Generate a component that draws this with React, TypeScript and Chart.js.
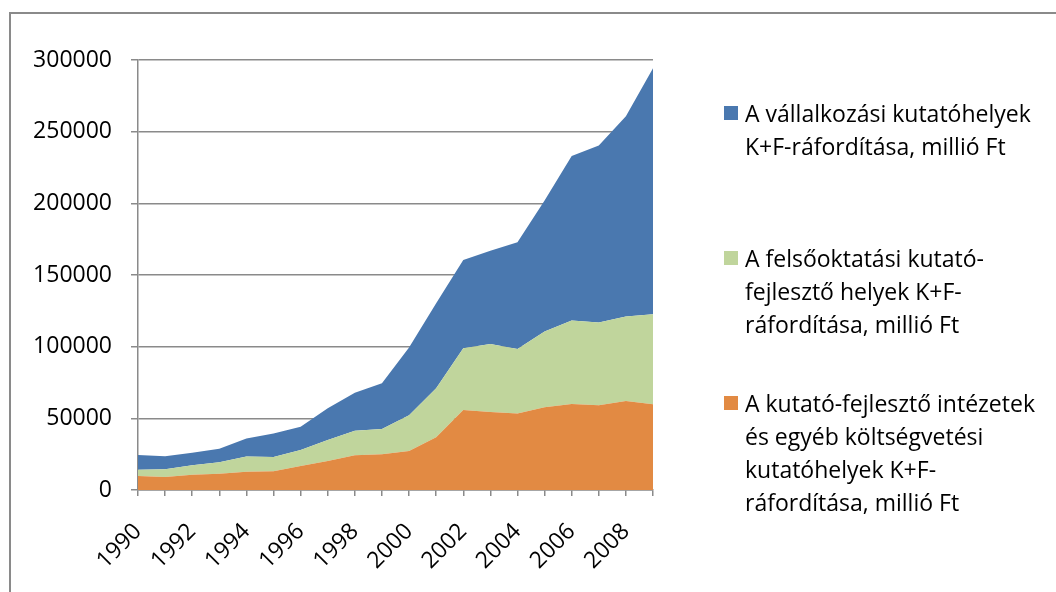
import React, { useEffect, useRef } from "react";
import { Chart, registerables } from "chart.js";

Chart.register(...registerables);

const years = [
  "1990", "1991", "1992", "1993", "1994", "1995", "1996", "1997", "1998", "1999",
  "2000", "2001", "2002", "2003", "2004", "2005", "2006", "2007", "2008", "2009",
];

// A kutató-fejlesztő intézetek és egyéb költségvetési kutatóhelyek
const institutes = [
  9800, 9100, 10700, 11400, 12800, 13000, 16700, 20200, 24200, 24900,
  27200, 36800, 55800, 54400, 53300, 57700, 60000, 59100, 62100, 59800,
];

// A felsőoktatási kutató-fejlesztő helyek
const higherEd = [
  4400, 5300, 6500, 7900, 10500, 10000, 11200, 14700, 17200, 17700,
  25000, 34200, 43100, 47500, 45100, 52800, 58200, 57700, 58900, 62800,
];

// A vállalkozási kutatóhelyek
const business = [
  10200, 9100, 8800, 9500, 12700, 16500, 16300, 22100, 26500, 31800,
  47300, 59300, 61600, 65100, 74400, 91500, 114800, 123600, 139700, 171600,
];

const yTicks = [0, 50000, 100000, 150000, 200000, 250000, 300000];

const legendItems = [
  { color: "#4a78af", lines: ["A vállalkozási kutatóhelyek", "K+F-ráfordítása, millió Ft"], center: 113 },
  { color: "#c0d59c", lines: ["A felsőoktatási kutató-", "fejlesztő helyek K+F-", "ráfordítása, millió Ft"], center: 258 },
  { color: "#e28a43", lines: ["A kutató-fejlesztő intézetek", "és egyéb költségvetési", "kutatóhelyek K+F-", "ráfordítása, millió Ft"], center: 403 },
];

const FONT = "'Open Sans', sans-serif";
const GRID = "#8a8a8a";

export default function App() {
  const ref = useRef<HTMLCanvasElement | null>(null);

  useEffect(() => {
    if (!ref.current) return;
    const chart = new Chart(ref.current, {
      type: "line",
      data: {
        labels: years,
        datasets: [
          {
            label: "A kutató-fejlesztő intézetek és egyéb költségvetési kutatóhelyek K+F-ráfordítása, millió Ft",
            data: institutes,
            backgroundColor: "#e28a43",
            borderWidth: 0,
            pointRadius: 0,
            fill: "origin",
          },
          {
            label: "A felsőoktatási kutató-fejlesztő helyek K+F-ráfordítása, millió Ft",
            data: higherEd,
            backgroundColor: "#c0d59c",
            borderWidth: 0,
            pointRadius: 0,
            fill: "-1",
          },
          {
            label: "A vállalkozási kutatóhelyek K+F-ráfordítása, millió Ft",
            data: business,
            backgroundColor: "#4a78af",
            borderWidth: 0,
            pointRadius: 0,
            fill: "-1",
          },
        ],
      },
      options: {
        responsive: false,
        animation: false,
        layout: { padding: { left: 0, right: 403, top: 60, bottom: 0 } },
        plugins: {
          legend: { display: false },
          tooltip: { enabled: false },
        },
        elements: { line: { tension: 0 } },
        scales: {
          x: {
            type: "category",
            offset: false,
            afterFit: (s: any) => {
              s.height = 102;
            },
            grid: {
              drawOnChartArea: false,
              drawTicks: true,
              tickLength: 6,
              tickColor: GRID,
              lineWidth: 1.5,
            },
            border: { display: true, color: GRID, width: 1.5 },
            ticks: {
              autoSkip: false,
              maxRotation: 45,
              minRotation: 45,
              padding: 22,
              color: "#000",
              font: { family: FONT, size: 23 },
              callback: (_v: any, i: number) => (i % 2 === 0 ? years[i] : ""),
            },
          },
          y: {
            stacked: true,
            min: yTicks[0],
            max: yTicks[yTicks.length - 1],
            afterFit: (s: any) => {
              s.width = 138;
            },
            afterBuildTicks: (s: any) => {
              s.ticks = yTicks.map((v) => ({ value: v }));
            },
            grid: {
              color: GRID,
              lineWidth: 1.5,
              tickLength: 7,
              tickColor: GRID,
            },
            border: { display: true, color: GRID, width: 1.5 },
            ticks: {
              padding: 19,
              color: "#000",
              font: { family: FONT, size: 23 },
              callback: (v: any) => String(v),
            },
          },
        },
      },
    });
    return () => chart.destroy();
  }, []);

  return (
    <div style={{ position: "fixed", left: 0, top: 0, width: 1056, height: 592, overflow: "hidden", background: "#fff" }}>
      <div
        style={{
          position: "absolute",
          left: 9,
          top: 12,
          width: 1100,
          height: 700,
          borderLeft: "2px solid #8a8a8a",
          borderTop: "2px solid #8a8a8a",
        }}
      />
      <canvas ref={ref} width={1056} height={592} style={{ position: "absolute", left: 0, top: 0 }} />
      {legendItems.map((it, k) => (
        <div
          key={k}
          style={{
            position: "absolute",
            left: 724,
            top: it.center - 16.5,
            fontFamily: FONT,
            fontSize: 23,
            lineHeight: "33.3px",
            color: "#000",
            whiteSpace: "nowrap",
          }}
        >
          <span
            style={{
              position: "absolute",
              left: 0,
              top: 9.5,
              width: 14,
              height: 14,
              background: it.color,
            }}
          />
          <div style={{ marginLeft: 21 }}>
            {it.lines.map((l, j) => (
              <div key={j}>{l}</div>
            ))}
          </div>
        </div>
      ))}
    </div>
  );
}
